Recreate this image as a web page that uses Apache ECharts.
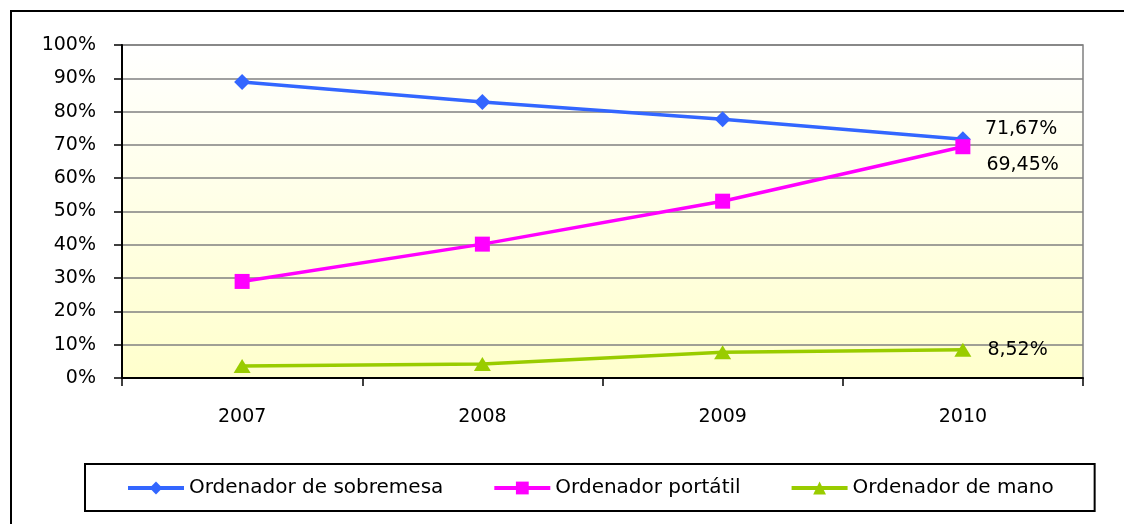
<!DOCTYPE html>
<html>
<head>
<meta charset="utf-8">
<script src="https://cdn.jsdelivr.net/npm/echarts@6/dist/echarts.min.js"></script>
<style>
  html, body { margin: 0; padding: 0; background: #fff; }
  #chart { width: 1124px; height: 524px; }
</style>
</head>
<body>
<div id="chart"></div>
<script>
const years = ["2007", "2008", "2009", "2010"];
const sobremesa = [88.9, 82.9, 77.7, 71.67];
const portatil = [29.0, 40.2, 53.1, 69.45];
const mano = [3.6, 4.2, 7.7, 8.52];
const seriesNames = ["Ordenador de sobremesa", "Ordenador portátil", "Ordenador de mano"];

var chart = echarts.init(document.getElementById("chart"));

// only the last point gets a label, like the original
function withLastLabel(values, offset) {
  return values.map(function (v, i) {
    if (i !== values.length - 1) return v;
    return {
      value: v,
      label: {
        show: true,
        position: "right",
        distance: 14,
        offset: offset,
        color: "#000",
        fontSize: 19,
        fontFamily: "DejaVu Sans",
        formatter: function (p) {
          return p.value.toFixed(2).replace(".", ",") + "%";
        },
      },
    };
  });
}

var option = {
  animation: false,
  textStyle: { fontFamily: "DejaVu Sans", color: "#000" },
  graphic: [
    {
      type: "rect",
      shape: { x: 11, y: 11, width: 1130, height: 530 },
      style: { fill: null, stroke: "#000", lineWidth: 2 },
      silent: true,
    },
  ],
  grid: {
    left: 122,
    right: 41,
    top: 45,
    bottom: 146,
    show: true,
    borderColor: "#808080",
    borderWidth: 1.5,
    backgroundColor: new echarts.graphic.LinearGradient(0, 0, 0, 1, [
      { offset: 0, color: "#ffffff" },
      { offset: 1, color: "#ffffcc" },
    ]),
  },
  legend: {
    left: 85,
    top: 464,
    padding: [14, 41, 13, 41],
    borderColor: "#000",
    borderWidth: 2,
    itemWidth: 56,
    itemHeight: 16,
    itemGap: 49,
    lineStyle: { width: 4 },
    textStyle: { fontSize: 20, color: "#000", fontFamily: "DejaVu Sans" },
    data: seriesNames,
  },
  xAxis: {
    type: "category",
    data: years,
    boundaryGap: true,
    axisLine: { lineStyle: { color: "#000", width: 2 } },
    axisTick: { show: true, length: 8, alignWithLabel: false, lineStyle: { color: "#000", width: 1.5 } },
    axisLabel: { color: "#000", fontSize: 19, margin: 30 },
  },
  yAxis: {
    type: "value",
    min: 0,
    max: 100,
    interval: 10,
    axisLine: { show: true, lineStyle: { color: "#000", width: 2 } },
    axisTick: { show: true, length: 8, lineStyle: { color: "#000", width: 1.5 } },
    axisLabel: { color: "#000", fontSize: 19, margin: 26, formatter: "{value}%" },
    splitLine: { lineStyle: { color: "#808080", width: 1.5 } },
  },
  series: [
    {
      name: seriesNames[0],
      type: "line",
      data: withLastLabel(sobremesa, [0, -10]),
      symbol: "diamond",
      symbolSize: 16,
      lineStyle: { color: "#3366ff", width: 3.5 },
      itemStyle: { color: "#3366ff" },
    },
    {
      name: seriesNames[1],
      type: "line",
      data: withLastLabel(portatil, [2, 18]),
      symbol: "rect",
      symbolSize: 15,
      lineStyle: { color: "#ff00ff", width: 3.5 },
      itemStyle: { color: "#ff00ff" },
    },
    {
      name: seriesNames[2],
      type: "line",
      data: withLastLabel(mano, [2, 0]),
      symbol: "triangle",
      symbolSize: [17, 14],
      lineStyle: { color: "#99cc00", width: 3.5 },
      itemStyle: { color: "#99cc00" },
    },
  ],
};

option && chart.setOption(option);
</script>
</body>
</html>
